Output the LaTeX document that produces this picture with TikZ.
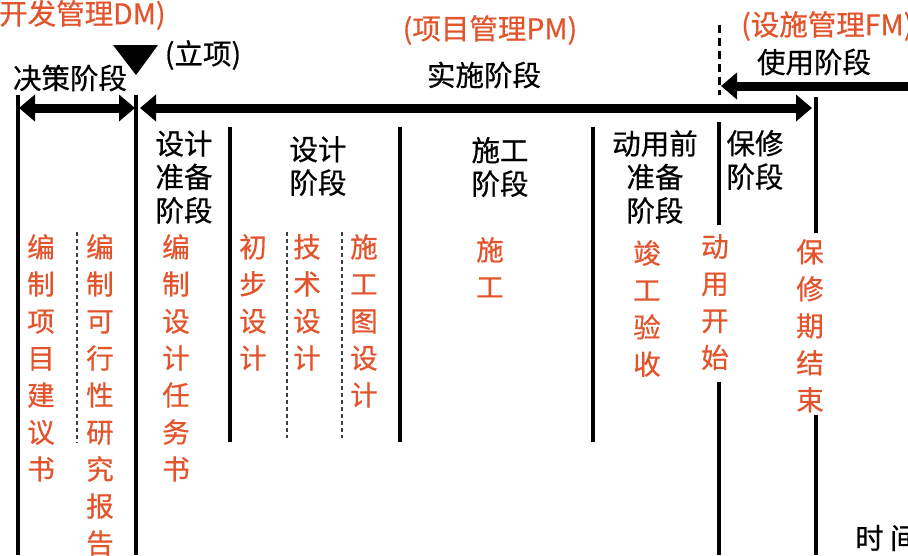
\documentclass[tikz,border=0pt]{standalone}
\usepackage{fontspec}
\setmainfont[FakeBold=0.6]{Noto Sans CJK SC}
\usetikzlibrary{arrows.meta}
\definecolor{orng}{RGB}{226,84,44}
\begin{document}
\begin{tikzpicture}[x=1pt,y=-1pt,
  lbl/.style={font=\fontsize{28.5}{33.5}\selectfont, inner sep=0pt, align=center},
  olbl/.style={font=\fontsize{28.5}{32}\selectfont, inner sep=0pt, text=orng},
  vcol/.style={font=\fontsize{27.5}{37}\selectfont, inner sep=0pt, text=orng, align=center, anchor=north},
  vline/.style={line width=3.5pt},
  dline/.style={line width=2pt, dash pattern=on 4pt off 3pt, black!75},
  topdash/.style={line width=3pt, dash pattern=on 8pt off 5pt},
  twoarrow/.style={line width=9pt, {Triangle[length=16pt,width=26pt]}-{Triangle[length=16pt,width=26pt]}},
  onearrow/.style={line width=9pt, -{Triangle[length=16pt,width=26pt]}},
]
\useasboundingbox (0,0) rectangle (908,555);

% header texts
\node[olbl, anchor=west] (dm) at (-1,15) {开发管理DM)};
\node[olbl] (pm) at (490,30) {(项目管理PM)};
\node[olbl, anchor=west] (fm) at (741,26) {(设施管理FM)};
\node[lbl] (lixiang) at (203,55) {(立项)};
\node[lbl] (juece) at (70,78) {决策阶段};
\node[lbl] (shishi) at (484,75) {实施阶段};
\node[lbl] (shiyong) at (814,62) {使用阶段};

% milestone triangle
\fill (113,45) -- (158,45) -- (136,75) -- cycle;

% coordinates of lines
\coordinate (a0t) at (18,95);  \coordinate (a0b) at (18,555);
\coordinate (a1t) at (136,95); \coordinate (a1b) at (136,555);
\coordinate (a2t) at (230,127); \coordinate (a2b) at (230,442);
\coordinate (a3t) at (400,127); \coordinate (a3b) at (400,442);
\coordinate (a4t) at (593,127); \coordinate (a4b) at (593,442);
\coordinate (a5t) at (719,122); \coordinate (a5m) at (719,225);
\coordinate (a5n) at (719,382); \coordinate (a5b) at (719,555);
\coordinate (a6t) at (816,97);  \coordinate (a6m) at (816,233);
\coordinate (a6n) at (816,415); \coordinate (a6b) at (816,555);
\coordinate (d0t) at (719,25);  \coordinate (d0b) at (719,95);
\coordinate (d1t) at (77,232);  \coordinate (d1b) at (77,443);
\coordinate (d2t) at (287,232); \coordinate (d2b) at (287,438);
\coordinate (d3t) at (342,232); \coordinate (d3b) at (342,438);

\draw[vline] (a0t) -- (a0b);
\draw[vline] (a1t) -- (a1b);
\draw[vline] (a2t) -- (a2b);
\draw[vline] (a3t) -- (a3b);
\draw[vline] (a4t) -- (a4b);
\draw[vline] (a5t) -- (a5m);
\draw[vline] (a5n) -- (a5b);
\draw[vline] (a6t) -- (a6m);
\draw[vline] (a6n) -- (a6b);
\draw[topdash] (d0t) -- (d0b);
\draw[dline] (d1t) -- (d1b);
\draw[dline] (d2t) -- (d2b);
\draw[dline] (d3t) -- (d3b);

% arrows
\coordinate (p1) at (19,108);  \coordinate (p2) at (135,108);
\coordinate (p3) at (140,108); \coordinate (p4) at (812,108);
\coordinate (p5) at (908,86);  \coordinate (p6) at (721,86);
\draw[twoarrow] (p1) -- (p2);
\draw[twoarrow] (p3) -- (p4);
\draw[onearrow] (p5) -- (p6);

% stage labels
\node[lbl, align=left] (sjzb) at (184,177) {设计\\准备\\阶段};
\node[lbl] (sj) at (318,166) {设计\\阶段};
\node[lbl] (sg) at (500,167) {施工\\阶段};
\node[lbl] (dyq) at (655,177) {动用前\\准备\\阶段};
\node[lbl, align=left] (bx) at (755,160) {保修\\阶段};

% vertical orange texts
\node[vcol] (c1) at (41,234) {编\\制\\项\\目\\建\\议\\书};
\node[vcol] (c2) at (100,234) {编\\制\\可\\行\\性\\研\\究\\报\\告};
\node[vcol] (c3) at (176,234) {编\\制\\设\\计\\任\\务\\书};
\node[vcol] (c4) at (253,234) {初\\步\\设\\计};
\node[vcol] (c5) at (307,234) {技\\术\\设\\计};
\node[vcol] (c6) at (364,234) {施\\工\\图\\设\\计};
\node[vcol] (c7) at (490,237) {施\\工};
\node[vcol] (c8) at (647,240) {竣\\工\\验\\收};
\node[vcol] (c9) at (715,234) {动\\用\\开\\始};
\node[vcol] (c10) at (810,239) {保\\修\\期\\结\\束};

\node[lbl, anchor=west] (time) at (855,538) {时 间};
\end{tikzpicture}
\end{document}
